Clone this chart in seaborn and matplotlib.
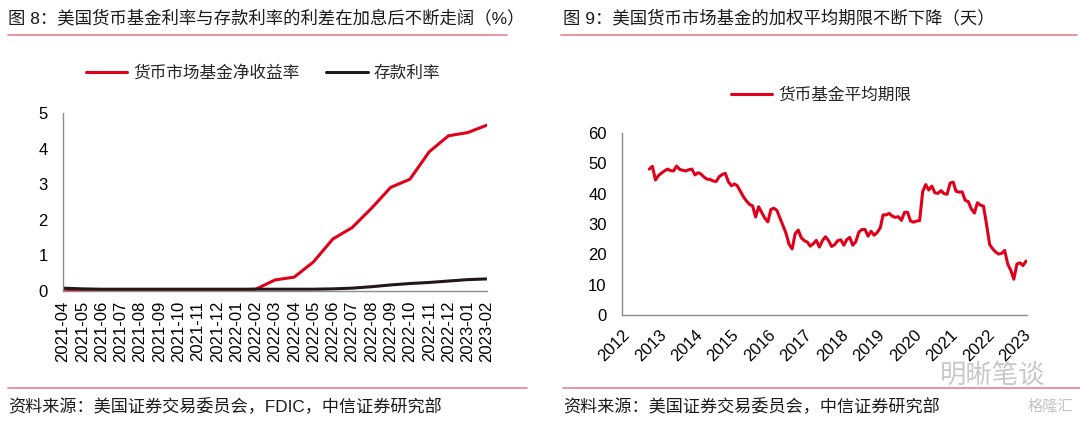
import numpy as np
import pandas as pd
import seaborn as sns
import matplotlib.pyplot as plt
import matplotlib.dates as mdates

# 图8 数据
months = ['2021-04', '2021-05', '2021-06', '2021-07', '2021-08', '2021-09', '2021-10',
          '2021-11', '2021-12', '2022-01', '2022-02', '2022-03', '2022-04', '2022-05',
          '2022-06', '2022-07', '2022-08', '2022-09', '2022-10', '2022-11', '2022-12',
          '2023-01', '2023-02']
mmf_yield = [0.05, 0.02, 0.02, 0.02, 0.02, 0.02, 0.02, 0.02, 0.03, 0.03, 0.05, 0.31,
             0.39, 0.82, 1.46, 1.78, 2.32, 2.91, 3.14, 3.91, 4.36, 4.45, 4.66]
deposit_rate = [0.08, 0.06, 0.05, 0.05, 0.05, 0.05, 0.05, 0.05, 0.05, 0.05, 0.05, 0.05,
                0.05, 0.05, 0.06, 0.08, 0.12, 0.17, 0.21, 0.24, 0.28, 0.32, 0.34]

# 图9 数据 (月度, 2012-10 起)
wam_start = '2012-10'
wam_days = [48.1, 49.0, 44.5, 46.0, 46.8, 47.5, 48.1, 47.6, 47.5, 49.1, 48.0, 47.7,
            47.5, 47.9, 48.1, 46.2, 46.9, 46.5, 45.5, 44.8, 44.7, 44.2, 44.0, 45.6,
            46.3, 46.7, 44.0, 42.6, 43.2, 42.6, 40.8, 39.0, 37.6, 36.5, 36.0, 32.3,
            35.7, 33.8, 32.0, 30.7, 34.8, 35.2, 34.5, 32.0, 29.5, 27.0, 23.3, 21.8,
            26.8, 28.0, 25.5, 24.5, 24.0, 22.7, 23.5, 24.6, 22.4, 24.5, 25.8, 24.5,
            22.6, 23.2, 24.5, 24.8, 23.0, 24.8, 25.6, 23.0, 24.2, 27.3, 28.2, 28.2,
            26.0, 27.6, 26.3, 27.2, 28.8, 33.0, 33.0, 33.5, 32.6, 32.2, 32.4, 31.2,
            33.8, 33.9, 31.0, 30.6, 31.0, 31.1, 40.7, 43.0, 41.2, 42.5, 40.3, 40.1,
            41.0, 40.0, 39.8, 43.5, 43.8, 40.8, 40.5, 40.6, 37.8, 37.4, 35.0, 33.6,
            37.0, 36.2, 35.9, 29.8, 23.2, 21.9, 20.8, 20.1, 20.3, 21.3, 16.8, 14.7,
            11.8, 16.8, 17.2, 16.3, 17.8]

RED = '#E0001B'
BLACK = '#231815'
GREY = '#8c8c8c'

sns.set_style('white')
plt.rcParams['font.family'] = ['Liberation Sans', 'Noto Sans CJK SC', 'DejaVu Sans']
plt.rcParams['axes.unicode_minus'] = False

W, H = 1080, 423
fig = plt.figure(figsize=(W / 100, H / 100), dpi=100)


def px(x, y):
    return x / W, 1 - y / H


def style_axes(ax):
    sns.despine(ax=ax)
    for s in ['left', 'bottom']:
        ax.spines[s].set_color(GREY)
        ax.spines[s].set_linewidth(1.0)
    ax.tick_params(axis='both', colors=GREY, labelcolor='black', labelsize=12,
                   length=5, width=1.0, direction='out')
    ax.set_xlabel('')
    ax.set_ylabel('')


# ---- 图8 ----
df1 = pd.DataFrame({'month': months, 'mmf': mmf_yield, 'dep': deposit_rate})
ax1 = fig.add_axes([63 / W, 1 - 291 / H, (487 - 63) / W, (291 - 113) / H])
sns.lineplot(data=df1, x='month', y='mmf', color=RED, lw=2.2, ax=ax1,
             label='货币市场基金净收益率', legend=False)
sns.lineplot(data=df1, x='month', y='dep', color=BLACK, lw=2.2, ax=ax1,
             label='存款利率', legend=False)
style_axes(ax1)
ax1.set_xlim(0, len(months) - 1)
ax1.set_ylim(0, 5)
ax1.set_yticks(range(0, 6))
ax1.tick_params(axis='x', rotation=90, pad=2)
ax1.tick_params(axis='y', pad=6)
ax1.legend(loc='center', bbox_to_anchor=px(263, 73), bbox_transform=fig.transFigure,
           ncol=2, frameon=False, fontsize=12, handlelength=2.5, handletextpad=0.35,
           columnspacing=1.6)

# ---- 图9 ----
df2 = pd.DataFrame({'date': pd.date_range(wam_start, periods=len(wam_days), freq='MS'),
                    'wam': wam_days})
ax2 = fig.add_axes([622 / W, 1 - 315 / H, (1027 - 622) / W, (315 - 133) / H])
sns.lineplot(data=df2, x='date', y='wam', color=RED, lw=2.2, ax=ax2,
             label='货币基金平均期限', legend=False)
style_axes(ax2)
ax2.set_xlim(pd.Timestamp('2012-01-01'), pd.Timestamp('2023-02-10'))
ax2.set_ylim(0, 60)
ax2.set_yticks(range(0, 61, 10))
ax2.xaxis.set_major_locator(mdates.YearLocator())
ax2.xaxis.set_major_formatter(mdates.DateFormatter('%Y'))
for lab in ax2.get_xticklabels():
    lab.set_rotation(45)
    lab.set_ha('right')
    lab.set_rotation_mode('anchor')
ax2.tick_params(axis='x', pad=4)
ax2.tick_params(axis='y', pad=6)
ax2.legend(loc='center', bbox_to_anchor=px(821, 95), bbox_transform=fig.transFigure,
           frameon=False, fontsize=12, handlelength=2.5, handletextpad=0.35)

# ---- 标题、来源、分隔线 ----
line_col = '#E5838F'
fig.text(*px(8, 18), '图 8：美国货币基金利率与存款利率的利差在加息后不断走阔（%）',
         fontsize=12.5, va='center', ha='left', color='#1a1a1a')
fig.text(*px(563, 18), '图 9：美国货币市场基金的加权平均期限不断下降（天）',
         fontsize=12.5, va='center', ha='left', color='#1a1a1a')
for x0, x1 in [(8, 507), (561, 1077)]:
    fig.add_artist(plt.Line2D([x0 / W, x1 / W], [1 - 35 / H] * 2, color=line_col, lw=1.2))
for x0, x1 in [(8, 527), (563, 1080)]:
    fig.add_artist(plt.Line2D([x0 / W, x1 / W], [1 - 388 / H] * 2, color=line_col, lw=1.2))

fig.text(*px(8, 407), '资料来源：美国证券交易委员会，FDIC，中信证券研究部',
         fontsize=12.3, va='center', ha='left', color='#1a1a1a')
fig.text(*px(563, 407), '资料来源：美国证券交易委员会，中信证券研究部',
         fontsize=12.3, va='center', ha='left', color='#1a1a1a')

# 水印
fig.text(*px(940, 375), '明晰笔谈', fontsize=19, va='center', ha='left', color='#c8c8c8')
fig.text(*px(1028, 407), '格隆汇', fontsize=11, va='center', ha='left', color='#c4c4c4')

fig.savefig('out.png', dpi=100)
